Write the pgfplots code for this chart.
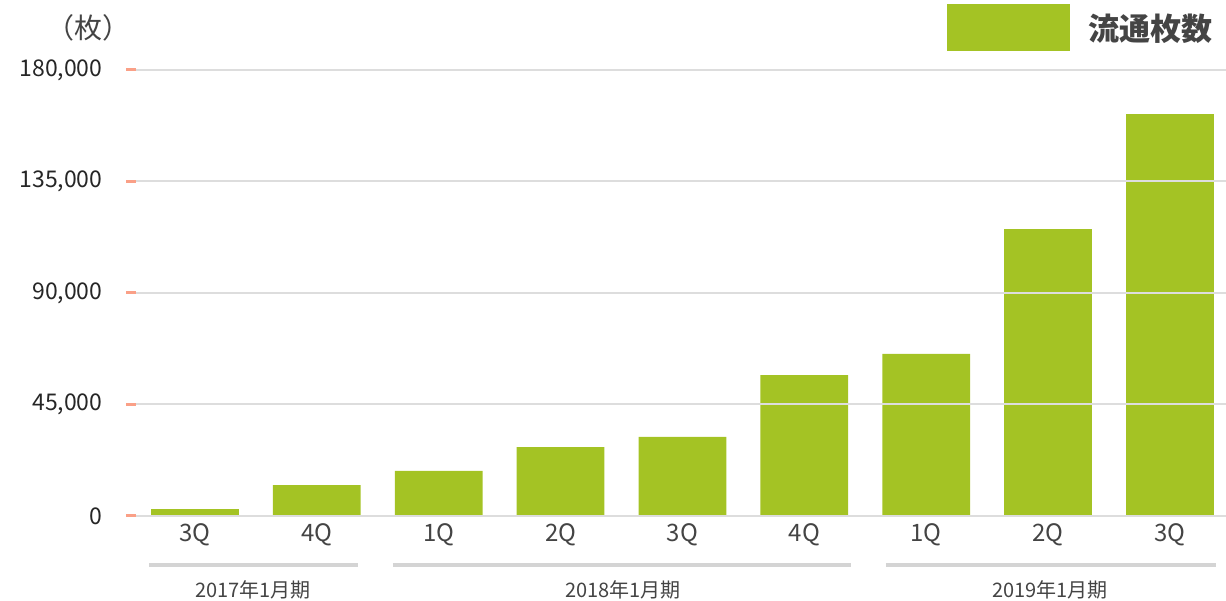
\documentclass[border=0pt]{standalone}
\usepackage{fontspec}
\setmainfont{Noto Sans CJK JP}
\usepackage{pgfplots}
\pgfplotsset{compat=1.18}
\definecolor{barg}{RGB}{164,195,36}
\definecolor{gridc}{RGB}{221,221,221}
\definecolor{tickc}{RGB}{250,160,135}
\definecolor{grpc}{RGB}{212,212,212}
\definecolor{txtc}{RGB}{68,68,68}
\begin{document}
\begin{tikzpicture}
\useasboundingbox (0pt,0pt) rectangle (1226pt,601pt);
\begin{axis}[
  at={(126pt,85pt)}, anchor=south west,
  scale only axis, width=1100pt, height=446pt,
  xmin=-0.566, xmax=8.46, ymin=0, ymax=180000,
  axis lines=left, axis line style={draw=none},
  clip=false, scaled y ticks=false, axis on top,
  xtick={0,1,2,3,4,5,6,7,8},
  xticklabels={3Q,4Q,1Q,2Q,3Q,4Q,1Q,2Q,3Q},
  xticklabel style={font=\fontsize{24}{26}\selectfont, text=txtc, yshift=-4pt},
  xtick style={draw=none},
  ytick={0,45000,90000,135000,180000},
  yticklabels={0,{45,000},{90,000},{135,000},{180,000}},
  yticklabel style={font=\fontsize{23}{25}\selectfont, text=black!85, anchor=east, xshift=-20pt},
  ytick style={color=tickc, line width=3pt},
  major tick length=10pt, tick align=inside,
  ymajorgrids, grid style={color=gridc, line width=2pt},
  every axis plot/.append style={bar shift=0pt},
]
\addplot[ybar, bar width=0.72, fill=barg, draw=none] coordinates {
(0,2800) (1,12500) (2,18200) (3,27800) (4,31900) (5,56900) (6,65400) (7,115800) (8,162200)
};
\draw[grpc, line width=4pt] (axis cs:-0.377,-19800) -- (axis cs:1.337,-19800);
\draw[grpc, line width=4pt] (axis cs:1.624,-19800) -- (axis cs:5.381,-19800);
\draw[grpc, line width=4pt] (axis cs:5.668,-19800) -- (axis cs:8.376,-19800);
\node[text=txtc, font=\fontsize{20}{22}\selectfont] at (axis cs:0.476,-29900) {2017年1月期};
\node[text=txtc, font=\fontsize{20}{22}\selectfont] at (axis cs:3.511,-29900) {2018年1月期};
\node[text=txtc, font=\fontsize{20}{22}\selectfont] at (axis cs:7.014,-29900) {2019年1月期};
\end{axis}
\fill[barg] (947pt,550pt) rectangle (1070pt,597pt);
\node[anchor=west, inner sep=0pt, text=txtc, font=\fontsize{31}{33}\selectfont\bfseries] at (1088pt,572pt) {流通枚数};
\node[text=txtc, font=\fontsize{28}{30}\selectfont, inner sep=0pt] at (88pt,573pt) {（枚）};
\end{tikzpicture}
\end{document}
